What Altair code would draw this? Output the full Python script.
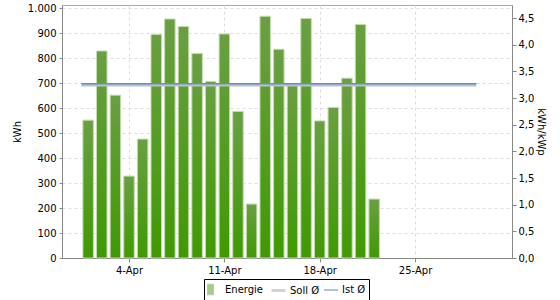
import altair as alt
import pandas as pd

# ---- data ----
days = list(range(1, 23))
energie = [552, 829, 652, 328, 476, 895, 957, 927, 819, 707, 897, 587,
           216, 968, 836, 691, 959, 549, 603, 720, 935, 236]
month_days = 30
month_label = "Apr"
x_ticks = [4, 11, 18, 25]
kwp = 213.5
soll_avg = 693
ist_avg = 698
series = ["Energie", "Soll Ø", "Ist Ø"]
y_left_ticks = list(range(0, 1001, 100))
y_right_ticks = [i / 2 for i in range(0, 10)]

FONT = "DejaVu Sans"
GREEN_TOP = "#6a9f42"
GREEN_BOT = "#3f9a02"
BAR_STROKE = "#c4dcb0"
SOLL_C = "#c0c0c0"
IST_C = "#5b8fd0"

bars_df = pd.DataFrame({"day": days, "kwh": energie})
lines_df = pd.DataFrame({
    "series": ["Soll Ø", "Ist Ø"],
    "kwh": [soll_avg, ist_avg],
    "day": [0.5, 0.5],
    "day_end": [month_days - 0.5, month_days - 0.5],
})
legend_df = pd.DataFrame({"series": series, "day": [-50] * 3, "kwh": [0] * 3})

x_scale = alt.Scale(domain=[-0.92, 32.12], nice=False, zero=False, padding=0)
y_scale = alt.Scale(domain=[0, 1013], nice=False, zero=True, padding=0)
y2_scale = alt.Scale(domain=[0, 1013 / kwp], nice=False, zero=True, padding=0)

x_axis = alt.Axis(values=x_ticks, labelExpr=f"datum.value + '-{month_label}'",
                  grid=True, gridDash=[3, 3], gridColor="#dddddd",
                  tickSize=4, tickColor="#888888", domainColor="#888888",
                  labelPadding=3, labelFont=FONT, labelFontSize=10,
                  labelColor="#000000", labelOverlap=False, title=None)
y_axis = alt.Axis(values=y_left_ticks,
                  labelExpr="replace(format(datum.value, ','), ',', '.')",
                  grid=True, gridDash=[3, 3], gridColor="#dddddd",
                  tickSize=3, tickColor="#888888", domainColor="#888888",
                  labelPadding=3, labelFont=FONT, labelFontSize=10,
                  labelColor="#000000", labelOverlap=False, title="kWh",
                  titleFont=FONT, titleFontSize=10, titleFontWeight="normal",
                  titleColor="#000000", titlePadding=5)
y2_axis = alt.Axis(orient="right", values=y_right_ticks,
                   labelExpr="replace(format(datum.value, '.1f'), '.', ',')",
                   grid=False, tickSize=4, tickColor="#888888",
                   domainColor="#888888", labelPadding=2, labelFont=FONT,
                   labelFontSize=10, labelColor="#000000", labelOverlap=False,
                   title="kWh/kWp", titleFont=FONT, titleFontSize=10,
                   titleFontWeight="normal", titleColor="#000000",
                   titlePadding=2)

X = alt.X("day:Q", scale=x_scale, axis=x_axis)
Y = alt.Y("kwh:Q", scale=y_scale, axis=y_axis)

bars = alt.Chart(bars_df).mark_bar(
    width=10.5,
    fill=alt.Gradient(gradient="linear",
                      stops=[alt.GradientStop(color=GREEN_TOP, offset=0),
                             alt.GradientStop(color=GREEN_BOT, offset=1)],
                      x1=0, x2=0, y1=0, y2=1),
    stroke=BAR_STROKE, strokeWidth=1,
).encode(x=X, y=Y)

soll_line = alt.Chart(lines_df).transform_filter(alt.datum.series == "Soll Ø").mark_rule(
    color=SOLL_C, strokeWidth=3).encode(x=X, x2="day_end:Q", y=Y)
ist_line = alt.Chart(lines_df).transform_filter(alt.datum.series == "Ist Ø").mark_rule(
    color=IST_C, strokeWidth=1.5).encode(x=X, x2="day_end:Q", y=Y)

leg = alt.Legend(title=None, orient="none", legendX=142, legendY=274,
                 direction="horizontal", strokeColor="#000000", padding=3,
                 gridAlign="none",
                 labelFont=FONT, labelFontSize=10, labelColor="#000000",
                 symbolSize=196, columnPadding=1, labelOffset=3)
rect_path = "M-1,-0.75H-0.14V0.75H-1Z"
legend_layer = alt.Chart(legend_df).mark_point(clip=True, filled=True).encode(
    x=X, y=Y,
    fill=alt.Fill("series:N", scale=alt.Scale(domain=series,
                  range=["#4a9a14", "transparent", "transparent"]), legend=leg),
    stroke=alt.Stroke("series:N", scale=alt.Scale(domain=series,
                      range=["#8fbf6c", SOLL_C, IST_C]), legend=leg),
    shape=alt.Shape("series:N", scale=alt.Scale(domain=series,
                    range=[rect_path, "stroke", "stroke"]), legend=leg),
    strokeWidth=alt.StrokeWidth("series:N", scale=alt.Scale(type="ordinal", domain=series,
                                range=[1, 3, 1.5]), legend=leg),
)

right_dummy = alt.Chart(bars_df).transform_calculate(
    spec=f"datum.kwh / {kwp}").mark_point(opacity=0).encode(
    x=X,
    y=alt.Y("spec:Q", scale=y2_scale, axis=y2_axis),
)

left = alt.layer(bars, soll_line, ist_line, legend_layer)
chart = alt.layer(left, right_dummy).resolve_scale(y="independent").properties(
    width=450, height=253,
    autosize=alt.AutoSizeParams(type="none"),
    padding={"left": 62, "top": 5, "right": 48, "bottom": 42},
).configure_view(stroke="#aaaaaa", strokeWidth=1)

chart.save("out.html", embed_options={"renderer": "svg", "actions": False})
